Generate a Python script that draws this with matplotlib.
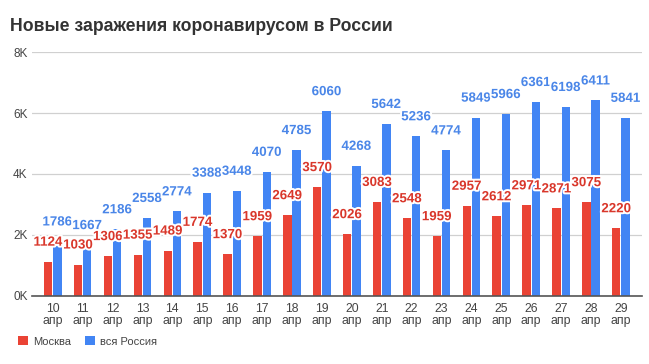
import matplotlib
matplotlib.use("Agg")
import matplotlib.pyplot as plt
import matplotlib.patheffects as pe
import numpy as np

plt.rcParams['font.family'] = ['Liberation Sans', 'DejaVu Sans']

days = ["10", "11", "12", "13", "14", "15", "16", "17", "18", "19",
        "20", "21", "22", "23", "24", "25", "26", "27", "28", "29"]
month = "апр"
moscow = [1124, 1030, 1306, 1355, 1489, 1774, 1370, 1959, 2649, 3570,
          2026, 3083, 2548, 1959, 2957, 2612, 2971, 2871, 3075, 2220]
russia = [1786, 1667, 2186, 2558, 2774, 3388, 3448, 4070, 4785, 6060,
          4268, 5642, 5236, 4774, 5849, 5966, 6361, 6198, 6411, 5841]
yticks = [0, 2000, 4000, 6000, 8000]
ytick_labels = ["0K", "2K", "4K", "6K", "8K"]
title = "Новые заражения коронавирусом в России"
series_names = ["Москва", "вся Россия"]

red = "#ea4335"
blue = "#4285f4"
red_txt = "#d9372b"
blue_txt = "#4a86e8"

fig = plt.figure(figsize=(6.49, 3.64), dpi=100)
ax = fig.add_axes([0.049, 0.187, 0.940, 0.670])

x = np.arange(len(days))
w = 0.28
off = 0.155
b1 = ax.bar(x - off, moscow, width=w, color=red, zorder=2)
b2 = ax.bar(x + off, russia, width=w, color=blue, zorder=2)

stroke = [pe.withStroke(linewidth=2.8, foreground="white")]
for xi, v in zip(x, moscow):
    ax.annotate(str(v), (xi - off, v), xytext=(0, 19), textcoords="offset pixels",
                ha="center", va="center", fontsize=9.6, fontweight="bold",
                color=red_txt, path_effects=stroke, zorder=4)
for xi, v in zip(x, russia):
    ax.annotate(str(v), (xi + off, v), xytext=(0, 19), textcoords="offset pixels",
                ha="center", va="center", fontsize=9.6, fontweight="bold",
                color=blue_txt, path_effects=stroke, zorder=3)

ax.set_xlim(-0.7, len(days) - 0.3)
ax.set_ylim(0, 8000)
ax.set_yticks(yticks)
ax.set_yticklabels(ytick_labels, fontsize=8.5, color="#444444")
ax.set_xticks(x)
ax.set_xticklabels([f"{d}\n{month}" for d in days], fontsize=8.8, color="#444444",
                   linespacing=1.05)
ax.tick_params(axis="both", length=0, pad=5)
ax.tick_params(axis="y", pad=3)
ax.grid(axis="y", color="#d0d0d0", linewidth=0.9, zorder=0)
ax.set_axisbelow(True)
for s in ["top", "right", "left"]:
    ax.spines[s].set_visible(False)
ax.spines["bottom"].set_color("#555555")
ax.spines["bottom"].set_linewidth(1.2)
ax.spines["bottom"].set_zorder(5)

fig.text(0.015, 0.926, title, fontsize=12.7, fontweight="bold", color="#333333",
         ha="left", va="center")

leg = fig.legend([b1, b2], series_names, loc="lower left", bbox_to_anchor=(0.012, 0.02),
                 ncol=2, frameon=False, fontsize=8, handlelength=0.9, handleheight=0.9,
                 handletextpad=0.5, columnspacing=1.2)
for t in leg.get_texts():
    t.set_color("#444444")

fig.savefig("out.png", dpi=100, facecolor="white")
